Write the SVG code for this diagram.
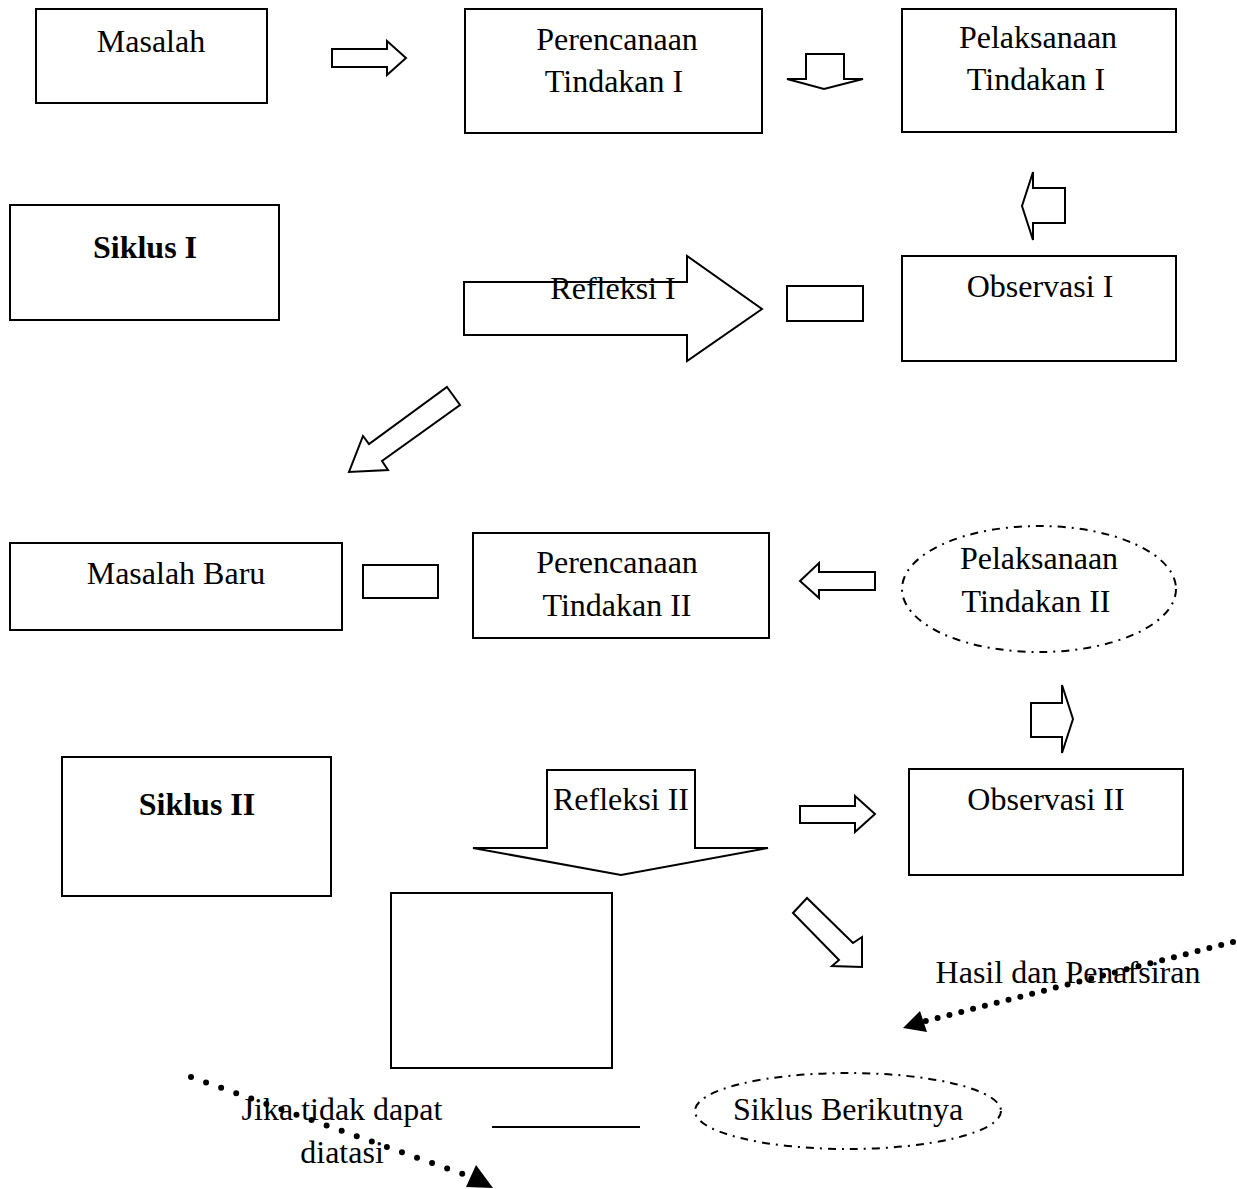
<svg xmlns="http://www.w3.org/2000/svg" width="1237" height="1189" viewBox="0 0 1237 1189">
<style>
.b{fill:#fff;stroke:#000;stroke-width:2}
.t{font-family:"Liberation Serif","Times New Roman",serif;font-size:32px;fill:#000;text-anchor:middle}
.bold{font-weight:bold}
.dash{fill:none;stroke:#000;stroke-width:2;stroke-dasharray:8 6 2 6}
.dot{fill:none;stroke:#000;stroke-width:6;stroke-linecap:round}
</style>
<rect width="1237" height="1189" fill="#fff"/>
<g id="connectors">
<polygon class="b" points="332,49 387,49 387,41 406,58 387,75 387,67 332,67"/>
<polygon class="b" points="806,54 844,54 844,79 863,79 824,89 787,79 806,79"/>
<polygon class="b" points="1065,188 1033,188 1033,172 1022,206 1033,240 1033,223 1065,223"/>
<polygon class="b" points="464,282 687,282 687,256 762,309 687,361 687,335 464,335"/>
<polygon class="b" points="447,387 460,405 382,461 388,470 349,472 363,436 369,444"/>
<polygon class="b" points="875,572 819,572 819,563 800,581 819,598 819,590 875,590"/>
<polygon class="b" points="1031,703 1062,703 1062,685 1073,719 1062,753 1062,737 1031,737"/>
<polygon class="b" points="547,770 695,770 695,848 768,848 621,875 473,848 547,848"/>
<polygon class="b" points="800,806 855,806 855,796 875,814 855,832 855,823 800,823"/>
<polygon class="b" points="793,913 807,898 853,943 862,937 862,967 832,966 839,960"/>
<path class="dot" d="M1233,942 L922,1022" stroke-dasharray="0 12.2"/>
<polygon points="903,1028 920,1011 927,1032" fill="#000"/>
<path class="dot" d="M191,1077 L471,1177" stroke-dasharray="0 16"/>
<polygon points="493,1188 466,1187 476,1165" fill="#000"/>
<line x1="492" y1="1127" x2="640" y2="1127" stroke="#000" stroke-width="2"/>
</g>
<g id="masalah"><rect class="b" x="36" y="9" width="231" height="94"/><text class="t" x="151" y="52">Masalah</text></g>
<g id="perencanaan1"><rect class="b" x="465" y="9" width="297" height="124"/><text class="t" x="617" y="50">Perencanaan</text><text class="t" x="614" y="92">Tindakan I</text></g>
<g id="pelaksanaan1"><rect class="b" x="902" y="9" width="274" height="123"/><text class="t" x="1038" y="48">Pelaksanaan</text><text class="t" x="1036" y="90">Tindakan I</text></g>
<g id="siklus1"><rect class="b" x="10" y="205" width="269" height="115"/><text class="t bold" x="145" y="258">Siklus I</text></g>
<g id="refleksi1"><text class="t" x="613" y="299">Refleksi I</text></g>
<g id="smallrect1"><rect class="b" x="787" y="286" width="76" height="35"/></g>
<g id="observasi1"><rect class="b" x="902" y="256" width="274" height="105"/><text class="t" x="1040" y="297">Observasi I</text></g>
<g id="masalahbaru"><rect class="b" x="10" y="543" width="332" height="87"/><text class="t" x="176" y="584">Masalah Baru</text></g>
<g id="smallrect2"><rect class="b" x="363" y="565" width="75" height="33"/></g>
<g id="perencanaan2"><rect class="b" x="473" y="533" width="296" height="105"/><text class="t" x="617" y="573">Perencanaan</text><text class="t" x="617" y="616">Tindakan II</text></g>
<g id="pelaksanaan2"><ellipse class="dash" cx="1039" cy="589" rx="137" ry="63"/><text class="t" x="1039" y="569">Pelaksanaan</text><text class="t" x="1036" y="612">Tindakan II</text></g>
<g id="siklus2"><rect class="b" x="62" y="757" width="269" height="139"/><text class="t bold" x="197" y="815">Siklus II</text></g>
<g id="refleksi2"><text class="t" x="621" y="810">Refleksi II</text></g>
<g id="observasi2"><rect class="b" x="909" y="769" width="274" height="106"/><text class="t" x="1046" y="810">Observasi II</text></g>
<g id="square"><rect class="b" x="391" y="893" width="221" height="175"/></g>
<g id="hasil"><text class="t" x="1068" y="983">Hasil dan Penafsiran</text></g>
<g id="jika"><text class="t" x="342" y="1120">Jika tidak dapat</text><text class="t" x="342" y="1163">diatasi</text></g>
<g id="siklusberikutnya"><ellipse class="dash" cx="848" cy="1111" rx="153" ry="38"/><text class="t" x="848" y="1120">Siklus Berikutnya</text></g>
</svg>
